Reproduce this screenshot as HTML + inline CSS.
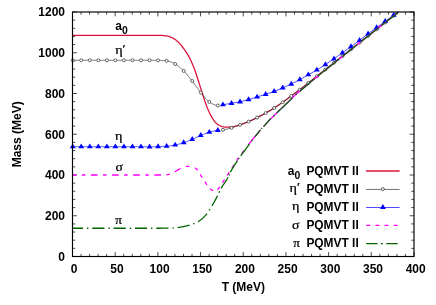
<!DOCTYPE html>
<html><head><meta charset="utf-8"><title>Meson masses</title>
<style>html,body{margin:0;padding:0;background:#fff;}body{width:436px;height:305px;overflow:hidden;position:relative;font-family:"Liberation Sans",sans-serif;}</style></head>
<body>
<svg width="436" height="305" viewBox="0 0 436 305" style="position:absolute;left:0;top:0;will-change:transform;opacity:0.9999">
<rect width="436" height="305" fill="#fff"/>
<path d="M72.50,256.5v-4.4 M72.50,12.0v4.4 M81.04,256.5v-2.7 M81.04,12.0v2.7 M89.58,256.5v-2.7 M89.58,12.0v2.7 M98.11,256.5v-2.7 M98.11,12.0v2.7 M106.65,256.5v-2.7 M106.65,12.0v2.7 M115.19,256.5v-4.4 M115.19,12.0v4.4 M123.73,256.5v-2.7 M123.73,12.0v2.7 M132.26,256.5v-2.7 M132.26,12.0v2.7 M140.80,256.5v-2.7 M140.80,12.0v2.7 M149.34,256.5v-2.7 M149.34,12.0v2.7 M157.88,256.5v-4.4 M157.88,12.0v4.4 M166.41,256.5v-2.7 M166.41,12.0v2.7 M174.95,256.5v-2.7 M174.95,12.0v2.7 M183.49,256.5v-2.7 M183.49,12.0v2.7 M192.03,256.5v-2.7 M192.03,12.0v2.7 M200.56,256.5v-4.4 M200.56,12.0v4.4 M209.10,256.5v-2.7 M209.10,12.0v2.7 M217.64,256.5v-2.7 M217.64,12.0v2.7 M226.18,256.5v-2.7 M226.18,12.0v2.7 M234.71,256.5v-2.7 M234.71,12.0v2.7 M243.25,256.5v-4.4 M243.25,12.0v4.4 M251.79,256.5v-2.7 M251.79,12.0v2.7 M260.32,256.5v-2.7 M260.32,12.0v2.7 M268.86,256.5v-2.7 M268.86,12.0v2.7 M277.40,256.5v-2.7 M277.40,12.0v2.7 M285.94,256.5v-4.4 M285.94,12.0v4.4 M294.48,256.5v-2.7 M294.48,12.0v2.7 M303.01,256.5v-2.7 M303.01,12.0v2.7 M311.55,256.5v-2.7 M311.55,12.0v2.7 M320.09,256.5v-2.7 M320.09,12.0v2.7 M328.62,256.5v-4.4 M328.62,12.0v4.4 M337.16,256.5v-2.7 M337.16,12.0v2.7 M345.70,256.5v-2.7 M345.70,12.0v2.7 M354.24,256.5v-2.7 M354.24,12.0v2.7 M362.77,256.5v-2.7 M362.77,12.0v2.7 M371.31,256.5v-4.4 M371.31,12.0v4.4 M379.85,256.5v-2.7 M379.85,12.0v2.7 M388.39,256.5v-2.7 M388.39,12.0v2.7 M396.93,256.5v-2.7 M396.93,12.0v2.7 M405.46,256.5v-2.7 M405.46,12.0v2.7 M414.00,256.5v-4.4 M414.00,12.0v4.4 M72.5,256.50h4.4 M414.0,256.50h-4.4 M72.5,248.35h2.7 M414.0,248.35h-2.7 M72.5,240.20h2.7 M414.0,240.20h-2.7 M72.5,232.05h2.7 M414.0,232.05h-2.7 M72.5,223.90h2.7 M414.0,223.90h-2.7 M72.5,215.75h4.4 M414.0,215.75h-4.4 M72.5,207.60h2.7 M414.0,207.60h-2.7 M72.5,199.45h2.7 M414.0,199.45h-2.7 M72.5,191.30h2.7 M414.0,191.30h-2.7 M72.5,183.15h2.7 M414.0,183.15h-2.7 M72.5,175.00h4.4 M414.0,175.00h-4.4 M72.5,166.85h2.7 M414.0,166.85h-2.7 M72.5,158.70h2.7 M414.0,158.70h-2.7 M72.5,150.55h2.7 M414.0,150.55h-2.7 M72.5,142.40h2.7 M414.0,142.40h-2.7 M72.5,134.25h4.4 M414.0,134.25h-4.4 M72.5,126.10h2.7 M414.0,126.10h-2.7 M72.5,117.95h2.7 M414.0,117.95h-2.7 M72.5,109.80h2.7 M414.0,109.80h-2.7 M72.5,101.65h2.7 M414.0,101.65h-2.7 M72.5,93.50h4.4 M414.0,93.50h-4.4 M72.5,85.35h2.7 M414.0,85.35h-2.7 M72.5,77.20h2.7 M414.0,77.20h-2.7 M72.5,69.05h2.7 M414.0,69.05h-2.7 M72.5,60.90h2.7 M414.0,60.90h-2.7 M72.5,52.75h4.4 M414.0,52.75h-4.4 M72.5,44.60h2.7 M414.0,44.60h-2.7 M72.5,36.45h2.7 M414.0,36.45h-2.7 M72.5,28.30h2.7 M414.0,28.30h-2.7 M72.5,20.15h2.7 M414.0,20.15h-2.7 M72.5,12.00h4.4 M414.0,12.00h-4.4" stroke="#000" stroke-width="0.7" fill="none"/>
<path d="M72.50,35.40 L73.50,35.40 L74.50,35.40 L75.50,35.40 L76.50,35.40 L77.50,35.40 L78.50,35.40 L79.50,35.40 L80.50,35.40 L81.50,35.40 L82.50,35.40 L83.50,35.40 L84.50,35.40 L85.50,35.40 L86.50,35.40 L87.50,35.40 L88.50,35.40 L89.50,35.40 L90.50,35.40 L91.50,35.40 L92.50,35.40 L93.50,35.40 L94.50,35.40 L95.50,35.40 L96.50,35.40 L97.50,35.40 L98.50,35.40 L99.50,35.40 L100.50,35.40 L101.50,35.40 L102.50,35.40 L103.50,35.40 L104.50,35.40 L105.50,35.40 L106.50,35.40 L107.50,35.40 L108.50,35.40 L109.50,35.40 L110.50,35.40 L111.50,35.40 L112.50,35.40 L113.50,35.40 L114.50,35.40 L115.50,35.40 L116.50,35.40 L117.50,35.40 L118.50,35.40 L119.50,35.40 L120.50,35.40 L121.50,35.40 L122.50,35.40 L123.50,35.40 L124.50,35.40 L125.50,35.40 L126.50,35.40 L127.50,35.40 L128.50,35.40 L129.50,35.40 L130.50,35.40 L131.50,35.40 L132.50,35.40 L133.50,35.40 L134.50,35.40 L135.50,35.40 L136.50,35.40 L137.50,35.40 L138.50,35.40 L139.50,35.40 L140.50,35.40 L141.50,35.40 L142.50,35.40 L143.50,35.40 L144.50,35.40 L145.50,35.40 L146.50,35.40 L147.50,35.40 L148.50,35.40 L149.50,35.40 L150.50,35.40 L151.50,35.40 L152.50,35.40 L153.50,35.40 L154.50,35.40 L155.50,35.40 L156.50,35.40 L157.50,35.40 L158.50,35.40 L159.50,35.40 L160.50,35.40 L161.50,35.44 L162.50,35.50 L163.50,35.57 L164.50,35.68 L165.50,35.82 L166.50,35.98 L167.50,36.16 L168.50,36.37 L169.50,36.66 L170.50,37.03 L171.50,37.47 L172.50,37.95 L173.50,38.51 L174.50,39.14 L175.50,39.83 L176.50,40.58 L177.50,41.40 L178.50,42.31 L179.50,43.32 L180.50,44.46 L181.50,45.71 L182.50,47.00 L183.50,48.30 L184.50,49.64 L185.50,51.05 L186.50,52.57 L187.50,54.20 L188.50,55.94 L189.50,57.79 L190.50,59.77 L191.50,61.91 L192.50,64.21 L193.50,66.68 L194.50,69.31 L195.50,72.07 L196.50,74.93 L197.50,77.96 L198.50,81.16 L199.50,84.41 L200.50,87.65 L201.50,90.77 L202.50,93.91 L203.50,97.04 L204.50,100.10 L205.50,102.99 L206.50,105.64 L207.50,108.16 L208.50,110.57 L209.50,112.83 L210.50,114.88 L211.50,116.68 L212.50,118.36 L213.50,119.93 L214.50,121.34 L215.50,122.53 L216.50,123.46 L217.50,124.24 L218.50,124.94 L219.50,125.53 L220.50,125.99 L221.50,126.32 L222.50,126.60 L223.50,126.85 L224.50,127.05 L225.50,127.17 L226.50,127.20 L227.50,127.18 L228.50,127.12 L229.50,127.05 L230.50,126.96 L231.50,126.86 L232.50,126.75 L233.50,126.60 L234.50,126.40 L235.50,126.15 L236.50,125.86 L237.50,125.55 L238.50,125.23 L239.50,124.91 L240.50,124.59 L241.50,124.27 L242.50,123.92 L243.50,123.57 L244.50,123.19 L245.50,122.81 L246.50,122.42 L247.50,122.01 L248.50,121.60 L249.50,121.18 L250.50,120.75 L251.50,120.29 L252.50,119.83 L253.50,119.35 L254.50,118.86 L255.50,118.37 L256.50,117.87 L257.50,117.38 L258.50,116.87 L259.50,116.36 L260.50,115.84 L261.50,115.32 L262.50,114.79 L263.50,114.24 L264.50,113.70 L265.50,113.14 L266.50,112.58 L267.50,112.00 L268.50,111.42 L269.50,110.83 L270.50,110.23 L271.50,109.62 L272.50,109.01 L273.50,108.38 L274.50,107.75 L275.50,107.11 L276.50,106.46 L277.50,105.79 L278.50,105.12 L279.50,104.44 L280.50,103.75 L281.50,103.05 L282.50,102.35 L283.50,101.64 L284.50,100.92 L285.50,100.19 L286.50,99.45 L287.50,98.70 L288.50,97.95 L289.50,97.20 L290.50,96.45 L291.50,95.72 L292.50,94.99 L293.50,94.26 L294.50,93.54 L295.50,92.82 L296.50,92.09 L297.50,91.36 L298.50,90.62 L299.50,89.88 L300.50,89.12 L301.50,88.35 L302.50,87.57 L303.50,86.78 L304.50,85.98 L305.50,85.19 L306.50,84.39 L307.50,83.60 L308.50,82.81 L309.50,82.02 L310.50,81.24 L311.50,80.45 L312.50,79.66 L313.50,78.88 L314.50,78.09 L315.50,77.30 L316.50,76.51 L317.50,75.73 L318.50,74.94 L319.50,74.15 L320.50,73.37 L321.50,72.58 L322.50,71.79 L323.50,71.01 L324.50,70.22 L325.50,69.43 L326.50,68.64 L327.50,67.86 L328.50,67.07 L329.50,66.28 L330.50,65.50 L331.50,64.71 L332.50,63.92 L333.50,63.14 L334.50,62.35 L335.50,61.56 L336.50,60.77 L337.50,59.99 L338.50,59.20 L339.50,58.41 L340.50,57.63 L341.50,56.84 L342.50,56.05 L343.50,55.27 L344.50,54.48 L345.50,53.69 L346.50,52.90 L347.50,52.12 L348.50,51.33 L349.50,50.54 L350.50,49.76 L351.50,48.97 L352.50,48.18 L353.50,47.40 L354.50,46.61 L355.50,45.82 L356.50,45.03 L357.50,44.25 L358.50,43.46 L359.50,42.67 L360.50,41.89 L361.50,41.10 L362.50,40.31 L363.50,39.53 L364.50,38.74 L365.50,37.95 L366.50,37.16 L367.50,36.38 L368.50,35.59 L369.50,34.80 L370.50,34.02 L371.50,33.23 L372.50,32.44 L373.50,31.66 L374.50,30.87 L375.50,30.08 L376.50,29.29 L377.50,28.51 L378.50,27.72 L379.50,26.93 L380.50,26.15 L381.50,25.36 L382.50,24.57 L383.50,23.79 L384.50,23.00 L385.50,22.21 L386.50,21.42 L387.50,20.64 L388.50,19.85 L389.50,19.06 L390.50,18.28 L391.50,17.49 L392.50,16.70 L393.50,15.92 L394.50,15.13 L395.50,14.34 L396.50,13.55 L397.50,12.77 L398.48,12.00" fill="none" stroke="#dc143c" stroke-width="1.3"/>
<path d="M72.50,60.30 L73.50,60.30 L74.50,60.30 L75.50,60.30 L76.50,60.30 L77.50,60.30 L78.50,60.30 L79.50,60.30 L80.50,60.30 L81.50,60.30 L82.50,60.30 L83.50,60.30 L84.50,60.30 L85.50,60.30 L86.50,60.30 L87.50,60.30 L88.50,60.30 L89.50,60.30 L90.50,60.30 L91.50,60.30 L92.50,60.30 L93.50,60.30 L94.50,60.30 L95.50,60.30 L96.50,60.30 L97.50,60.30 L98.50,60.30 L99.50,60.30 L100.50,60.30 L101.50,60.30 L102.50,60.30 L103.50,60.30 L104.50,60.30 L105.50,60.30 L106.50,60.30 L107.50,60.30 L108.50,60.30 L109.50,60.30 L110.50,60.30 L111.50,60.30 L112.50,60.30 L113.50,60.30 L114.50,60.30 L115.50,60.30 L116.50,60.30 L117.50,60.30 L118.50,60.30 L119.50,60.30 L120.50,60.30 L121.50,60.30 L122.50,60.30 L123.50,60.30 L124.50,60.30 L125.50,60.30 L126.50,60.30 L127.50,60.30 L128.50,60.30 L129.50,60.30 L130.50,60.30 L131.50,60.30 L132.50,60.30 L133.50,60.30 L134.50,60.30 L135.50,60.30 L136.50,60.30 L137.50,60.30 L138.50,60.30 L139.50,60.30 L140.50,60.30 L141.50,60.30 L142.50,60.30 L143.50,60.30 L144.50,60.30 L145.50,60.30 L146.50,60.30 L147.50,60.30 L148.50,60.30 L149.50,60.30 L150.50,60.30 L151.50,60.30 L152.50,60.31 L153.50,60.31 L154.50,60.32 L155.50,60.32 L156.50,60.33 L157.50,60.34 L158.50,60.35 L159.50,60.37 L160.50,60.40 L161.50,60.44 L162.50,60.50 L163.50,60.56 L164.50,60.63 L165.50,60.71 L166.50,60.80 L167.50,60.94 L168.50,61.16 L169.50,61.46 L170.50,61.82 L171.50,62.22 L172.50,62.67 L173.50,63.14 L174.50,63.63 L175.50,64.15 L176.50,64.76 L177.50,65.46 L178.50,66.23 L179.50,67.06 L180.50,67.94 L181.50,68.86 L182.50,69.80 L183.50,70.76 L184.50,71.74 L185.50,72.81 L186.50,73.93 L187.50,75.12 L188.50,76.34 L189.50,77.59 L190.50,78.85 L191.50,80.12 L192.50,81.39 L193.50,82.70 L194.50,84.06 L195.50,85.44 L196.50,86.84 L197.50,88.23 L198.50,89.59 L199.50,90.92 L200.50,92.19 L201.50,93.43 L202.50,94.71 L203.50,96.00 L204.50,97.27 L205.50,98.48 L206.50,99.59 L207.50,100.58 L208.50,101.41 L209.50,102.07 L210.50,102.70 L211.50,103.32 L212.50,103.90 L213.50,104.42 L214.50,104.86 L215.50,105.20 L216.50,105.42 L217.50,105.50" fill="none" stroke="#383838" stroke-width="0.7"/>
<path d="M222.96,129.83 L223.96,129.69 L224.96,129.52 L225.96,129.32 L226.96,129.08 L227.96,128.83 L228.96,128.56 L229.96,128.28 L230.96,128.00 L231.96,127.72 L232.96,127.41 L233.96,127.09 L234.96,126.75 L235.96,126.39 L236.96,126.03 L237.96,125.66 L238.96,125.28 L239.96,124.91 L240.96,124.55 L241.96,124.18 L242.96,123.80 L243.96,123.42 L244.96,123.04 L245.96,122.65 L246.96,122.24 L247.96,121.83 L248.96,121.41 L249.96,120.97 L250.96,120.53 L251.96,120.07 L252.96,119.60 L253.96,119.12 L254.96,118.63 L255.96,118.14 L256.96,117.64 L257.96,117.14 L258.96,116.64 L259.96,116.12 L260.96,115.60 L261.96,115.07 L262.96,114.54 L263.96,113.99 L264.96,113.44 L265.96,112.88 L266.96,112.31 L267.96,111.74 L268.96,111.15 L269.96,110.55 L270.96,109.95 L271.96,109.34 L272.96,108.72 L273.96,108.09 L274.96,107.46 L275.96,106.81 L276.96,106.15 L277.96,105.48 L278.96,104.81 L279.96,104.12 L280.96,103.43 L281.96,102.73 L282.96,102.03 L283.96,101.31 L284.96,100.59 L285.96,99.85 L286.96,99.10 L287.96,98.35 L288.96,97.60 L289.96,96.86 L290.96,96.11 L291.96,95.38 L292.96,94.65 L293.96,93.93 L294.96,93.21 L295.96,92.48 L296.96,91.76 L297.96,91.02 L298.96,90.28 L299.96,89.53 L300.96,88.77 L301.96,87.99 L302.96,87.20 L303.96,86.41 L304.96,85.62 L305.96,84.82 L306.96,84.03 L307.96,83.24 L308.96,82.45 L309.96,81.66 L310.96,80.87 L311.96,80.09 L312.96,79.30 L313.96,78.51 L314.96,77.73 L315.96,76.94 L316.96,76.15 L317.96,75.37 L318.96,74.58 L319.96,73.79 L320.96,73.00 L321.96,72.22 L322.96,71.43 L323.96,70.64 L324.96,69.86 L325.96,69.07 L326.96,68.28 L327.96,67.50 L328.96,66.71 L329.96,65.92 L330.96,65.13 L331.96,64.35 L332.96,63.56 L333.96,62.77 L334.96,61.99 L335.96,61.20 L336.96,60.41 L337.96,59.63 L338.96,58.84 L339.96,58.05 L340.96,57.26 L341.96,56.48 L342.96,55.69 L343.96,54.90 L344.96,54.12 L345.96,53.33 L346.96,52.54 L347.96,51.76 L348.96,50.97 L349.96,50.18 L350.96,49.39 L351.96,48.61 L352.96,47.82 L353.96,47.03 L354.96,46.25 L355.96,45.46 L356.96,44.67 L357.96,43.89 L358.96,43.10 L359.96,42.31 L360.96,41.52 L361.96,40.74 L362.96,39.95 L363.96,39.16 L364.96,38.38 L365.96,37.59 L366.96,36.80 L367.96,36.02 L368.96,35.23 L369.96,34.44 L370.96,33.65 L371.96,32.87 L372.96,32.08 L373.96,31.29 L374.96,30.51 L375.96,29.72 L376.96,28.93 L377.96,28.15 L378.96,27.36 L379.96,26.57 L380.96,25.78 L381.96,25.00 L382.96,24.21 L383.96,23.42 L384.96,22.64 L385.96,21.85 L386.96,21.06 L387.96,20.28 L388.96,19.49 L389.96,18.70 L390.96,17.91 L391.96,17.13 L392.96,16.34 L393.96,15.55 L394.96,14.77 L395.96,13.98 L396.96,13.19 L397.96,12.41 L398.48,12.00" fill="none" stroke="#383838" stroke-width="0.7"/>
<circle cx="72.70" cy="60.30" r="1.5" fill="#fff" stroke="#383838" stroke-width="0.75"/>
<circle cx="81.24" cy="60.30" r="1.5" fill="#fff" stroke="#383838" stroke-width="0.75"/>
<circle cx="89.78" cy="60.30" r="1.5" fill="#fff" stroke="#383838" stroke-width="0.75"/>
<circle cx="98.31" cy="60.30" r="1.5" fill="#fff" stroke="#383838" stroke-width="0.75"/>
<circle cx="106.85" cy="60.30" r="1.5" fill="#fff" stroke="#383838" stroke-width="0.75"/>
<circle cx="115.39" cy="60.30" r="1.5" fill="#fff" stroke="#383838" stroke-width="0.75"/>
<circle cx="123.93" cy="60.30" r="1.5" fill="#fff" stroke="#383838" stroke-width="0.75"/>
<circle cx="132.46" cy="60.30" r="1.5" fill="#fff" stroke="#383838" stroke-width="0.75"/>
<circle cx="141.00" cy="60.30" r="1.5" fill="#fff" stroke="#383838" stroke-width="0.75"/>
<circle cx="149.54" cy="60.30" r="1.5" fill="#fff" stroke="#383838" stroke-width="0.75"/>
<circle cx="158.07" cy="60.35" r="1.5" fill="#fff" stroke="#383838" stroke-width="0.75"/>
<circle cx="166.61" cy="60.81" r="1.5" fill="#fff" stroke="#383838" stroke-width="0.75"/>
<circle cx="175.15" cy="63.96" r="1.5" fill="#fff" stroke="#383838" stroke-width="0.75"/>
<circle cx="183.69" cy="70.94" r="1.5" fill="#fff" stroke="#383838" stroke-width="0.75"/>
<circle cx="192.23" cy="81.03" r="1.5" fill="#fff" stroke="#383838" stroke-width="0.75"/>
<circle cx="200.76" cy="92.52" r="1.5" fill="#fff" stroke="#383838" stroke-width="0.75"/>
<circle cx="209.30" cy="101.94" r="1.5" fill="#fff" stroke="#383838" stroke-width="0.75"/>
<circle cx="217.84" cy="105.49" r="1.5" fill="#fff" stroke="#383838" stroke-width="0.75"/>
<circle cx="222.96" cy="129.83" r="1.5" fill="#fff" stroke="#383838" stroke-width="0.75"/>
<circle cx="231.50" cy="127.85" r="1.5" fill="#fff" stroke="#383838" stroke-width="0.75"/>
<circle cx="240.04" cy="124.89" r="1.5" fill="#fff" stroke="#383838" stroke-width="0.75"/>
<circle cx="248.57" cy="121.58" r="1.5" fill="#fff" stroke="#383838" stroke-width="0.75"/>
<circle cx="257.11" cy="117.57" r="1.5" fill="#fff" stroke="#383838" stroke-width="0.75"/>
<circle cx="265.65" cy="113.06" r="1.5" fill="#fff" stroke="#383838" stroke-width="0.75"/>
<circle cx="274.19" cy="107.95" r="1.5" fill="#fff" stroke="#383838" stroke-width="0.75"/>
<circle cx="282.72" cy="102.20" r="1.5" fill="#fff" stroke="#383838" stroke-width="0.75"/>
<circle cx="291.26" cy="95.89" r="1.5" fill="#fff" stroke="#383838" stroke-width="0.75"/>
<circle cx="299.80" cy="89.65" r="1.5" fill="#fff" stroke="#383838" stroke-width="0.75"/>
<circle cx="308.33" cy="82.94" r="1.5" fill="#fff" stroke="#383838" stroke-width="0.75"/>
<circle cx="316.87" cy="76.22" r="1.5" fill="#fff" stroke="#383838" stroke-width="0.75"/>
<circle cx="325.41" cy="69.50" r="1.5" fill="#fff" stroke="#383838" stroke-width="0.75"/>
<circle cx="333.95" cy="62.78" r="1.5" fill="#fff" stroke="#383838" stroke-width="0.75"/>
<circle cx="342.49" cy="56.06" r="1.5" fill="#fff" stroke="#383838" stroke-width="0.75"/>
<circle cx="351.02" cy="49.35" r="1.5" fill="#fff" stroke="#383838" stroke-width="0.75"/>
<circle cx="359.56" cy="42.63" r="1.5" fill="#fff" stroke="#383838" stroke-width="0.75"/>
<circle cx="368.10" cy="35.91" r="1.5" fill="#fff" stroke="#383838" stroke-width="0.75"/>
<circle cx="376.63" cy="29.19" r="1.5" fill="#fff" stroke="#383838" stroke-width="0.75"/>
<circle cx="385.17" cy="22.47" r="1.5" fill="#fff" stroke="#383838" stroke-width="0.75"/>
<circle cx="393.71" cy="15.75" r="1.5" fill="#fff" stroke="#383838" stroke-width="0.75"/>
<path d="M72.50,146.70 L73.50,146.70 L74.50,146.70 L75.50,146.70 L76.50,146.70 L77.50,146.70 L78.50,146.70 L79.50,146.70 L80.50,146.70 L81.50,146.70 L82.50,146.70 L83.50,146.70 L84.50,146.70 L85.50,146.70 L86.50,146.70 L87.50,146.70 L88.50,146.70 L89.50,146.70 L90.50,146.70 L91.50,146.70 L92.50,146.70 L93.50,146.70 L94.50,146.70 L95.50,146.70 L96.50,146.70 L97.50,146.70 L98.50,146.70 L99.50,146.70 L100.50,146.70 L101.50,146.70 L102.50,146.70 L103.50,146.70 L104.50,146.70 L105.50,146.70 L106.50,146.70 L107.50,146.70 L108.50,146.70 L109.50,146.70 L110.50,146.70 L111.50,146.70 L112.50,146.70 L113.50,146.70 L114.50,146.70 L115.50,146.70 L116.50,146.70 L117.50,146.70 L118.50,146.70 L119.50,146.70 L120.50,146.70 L121.50,146.70 L122.50,146.70 L123.50,146.70 L124.50,146.70 L125.50,146.70 L126.50,146.70 L127.50,146.70 L128.50,146.70 L129.50,146.70 L130.50,146.70 L131.50,146.70 L132.50,146.70 L133.50,146.70 L134.50,146.70 L135.50,146.70 L136.50,146.70 L137.50,146.70 L138.50,146.70 L139.50,146.70 L140.50,146.70 L141.50,146.71 L142.50,146.72 L143.50,146.73 L144.50,146.74 L145.50,146.76 L146.50,146.77 L147.50,146.78 L148.50,146.79 L149.50,146.80 L150.50,146.80 L151.50,146.79 L152.50,146.77 L153.50,146.75 L154.50,146.72 L155.50,146.69 L156.50,146.66 L157.50,146.62 L158.50,146.59 L159.50,146.56 L160.50,146.52 L161.50,146.48 L162.50,146.44 L163.50,146.39 L164.50,146.33 L165.50,146.27 L166.50,146.20 L167.50,146.12 L168.50,146.01 L169.50,145.89 L170.50,145.76 L171.50,145.61 L172.50,145.44 L173.50,145.27 L174.50,145.09 L175.50,144.90 L176.50,144.69 L177.50,144.45 L178.50,144.19 L179.50,143.92 L180.50,143.63 L181.50,143.32 L182.50,143.01 L183.50,142.70 L184.50,142.38 L185.50,142.03 L186.50,141.68 L187.50,141.30 L188.50,140.92 L189.50,140.53 L190.50,140.12 L191.50,139.71 L192.50,139.29 L193.50,138.84 L194.50,138.36 L195.50,137.87 L196.50,137.38 L197.50,136.88 L198.50,136.40 L199.50,135.94 L200.50,135.50 L201.50,135.08 L202.50,134.67 L203.50,134.26 L204.50,133.86 L205.50,133.48 L206.50,133.11 L207.50,132.77 L208.50,132.45 L209.50,132.16 L210.50,131.87 L211.50,131.59 L212.50,131.32 L213.50,131.06 L214.50,130.83 L215.50,130.62 L216.50,130.44 L217.50,130.30" fill="none" stroke="#0000ff" stroke-width="0.7"/>
<path d="M222.96,104.71 L223.96,104.55 L224.96,104.38 L225.96,104.22 L226.96,104.04 L227.96,103.87 L228.96,103.69 L229.96,103.52 L230.96,103.34 L231.96,103.17 L232.96,103.00 L233.96,102.84 L234.96,102.67 L235.96,102.50 L236.96,102.33 L237.96,102.15 L238.96,101.96 L239.96,101.76 L240.96,101.54 L241.96,101.31 L242.96,101.07 L243.96,100.81 L244.96,100.55 L245.96,100.28 L246.96,100.00 L247.96,99.72 L248.96,99.44 L249.96,99.15 L250.96,98.86 L251.96,98.55 L252.96,98.24 L253.96,97.93 L254.96,97.62 L255.96,97.30 L256.96,96.99 L257.96,96.68 L258.96,96.37 L259.96,96.07 L260.96,95.76 L261.96,95.45 L262.96,95.14 L263.96,94.83 L264.96,94.51 L265.96,94.18 L266.96,93.85 L267.96,93.53 L268.96,93.19 L269.96,92.86 L270.96,92.52 L271.96,92.17 L272.96,91.81 L273.96,91.45 L274.96,91.08 L275.96,90.69 L276.96,90.29 L277.96,89.89 L278.96,89.47 L279.96,89.05 L280.96,88.63 L281.96,88.20 L282.96,87.77 L283.96,87.33 L284.96,86.89 L285.96,86.45 L286.96,86.00 L287.96,85.55 L288.96,85.08 L289.96,84.62 L290.96,84.14 L291.96,83.66 L292.96,83.16 L293.96,82.66 L294.96,82.16 L295.96,81.64 L296.96,81.12 L297.96,80.60 L298.96,80.06 L299.96,79.52 L300.96,78.97 L301.96,78.41 L302.96,77.83 L303.96,77.25 L304.96,76.66 L305.96,76.07 L306.96,75.49 L307.96,74.91 L308.96,74.35 L309.96,73.79 L310.96,73.24 L311.96,72.70 L312.96,72.15 L313.96,71.60 L314.96,71.03 L315.96,70.46 L316.96,69.88 L317.96,69.28 L318.96,68.67 L319.96,68.05 L320.96,67.42 L321.96,66.79 L322.96,66.15 L323.96,65.50 L324.96,64.85 L325.96,64.20 L326.96,63.54 L327.96,62.87 L328.96,62.20 L329.96,61.52 L330.96,60.84 L331.96,60.16 L332.96,59.47 L333.96,58.78 L334.96,58.08 L335.96,57.39 L336.96,56.69 L337.96,55.98 L338.96,55.27 L339.96,54.56 L340.96,53.85 L341.96,53.14 L342.96,52.42 L343.96,51.70 L344.96,50.99 L345.96,50.26 L346.96,49.54 L347.96,48.82 L348.96,48.09 L349.96,47.36 L350.96,46.63 L351.96,45.90 L352.96,45.16 L353.96,44.43 L354.96,43.69 L355.96,42.95 L356.96,42.21 L357.96,41.46 L358.96,40.72 L359.96,39.97 L360.96,39.22 L361.96,38.46 L362.96,37.70 L363.96,36.95 L364.96,36.19 L365.96,35.43 L366.96,34.68 L367.96,33.93 L368.96,33.18 L369.96,32.44 L370.96,31.69 L371.96,30.95 L372.96,30.20 L373.96,29.46 L374.96,28.73 L375.96,27.99 L376.96,27.27 L377.96,26.54 L378.96,25.82 L379.96,25.11 L380.96,24.40 L381.96,23.68 L382.96,22.97 L383.96,22.25 L384.96,21.53 L385.96,20.80 L386.96,20.08 L387.96,19.35 L388.96,18.61 L389.96,17.88 L390.96,17.15 L391.96,16.41 L392.96,15.68 L393.96,14.95 L394.96,14.21 L395.96,13.48 L396.96,12.74 L397.96,12.00 L397.97,12.00" fill="none" stroke="#0000ff" stroke-width="0.7"/>
<path d="M69.75,148.35 L75.65,148.35 L72.70,143.40Z" fill="#0000ff"/>
<path d="M78.29,148.35 L84.19,148.35 L81.24,143.40Z" fill="#0000ff"/>
<path d="M86.83,148.35 L92.73,148.35 L89.78,143.40Z" fill="#0000ff"/>
<path d="M95.36,148.35 L101.26,148.35 L98.31,143.40Z" fill="#0000ff"/>
<path d="M103.90,148.35 L109.80,148.35 L106.85,143.40Z" fill="#0000ff"/>
<path d="M112.44,148.35 L118.34,148.35 L115.39,143.40Z" fill="#0000ff"/>
<path d="M120.98,148.35 L126.88,148.35 L123.93,143.40Z" fill="#0000ff"/>
<path d="M129.51,148.35 L135.41,148.35 L132.46,143.40Z" fill="#0000ff"/>
<path d="M138.05,148.35 L143.95,148.35 L141.00,143.40Z" fill="#0000ff"/>
<path d="M146.59,148.45 L152.49,148.45 L149.54,143.50Z" fill="#0000ff"/>
<path d="M155.12,148.26 L161.02,148.26 L158.07,143.31Z" fill="#0000ff"/>
<path d="M163.66,147.84 L169.56,147.84 L166.61,142.89Z" fill="#0000ff"/>
<path d="M172.20,146.62 L178.10,146.62 L175.15,141.67Z" fill="#0000ff"/>
<path d="M180.74,144.29 L186.64,144.29 L183.69,139.34Z" fill="#0000ff"/>
<path d="M189.28,141.05 L195.18,141.05 L192.23,136.10Z" fill="#0000ff"/>
<path d="M197.81,137.04 L203.71,137.04 L200.76,132.09Z" fill="#0000ff"/>
<path d="M206.35,133.86 L212.25,133.86 L209.30,128.91Z" fill="#0000ff"/>
<path d="M214.89,131.91 L220.79,131.91 L217.84,126.96Z" fill="#0000ff"/>
<path d="M220.01,106.36 L225.91,106.36 L222.96,101.41Z" fill="#0000ff"/>
<path d="M228.55,104.90 L234.45,104.90 L231.50,99.95Z" fill="#0000ff"/>
<path d="M237.09,103.39 L242.99,103.39 L240.04,98.44Z" fill="#0000ff"/>
<path d="M245.62,101.20 L251.52,101.20 L248.57,96.25Z" fill="#0000ff"/>
<path d="M254.16,98.59 L260.06,98.59 L257.11,93.64Z" fill="#0000ff"/>
<path d="M262.70,95.93 L268.60,95.93 L265.65,90.98Z" fill="#0000ff"/>
<path d="M271.24,93.02 L277.13,93.02 L274.19,88.07Z" fill="#0000ff"/>
<path d="M279.77,89.52 L285.67,89.52 L282.72,84.57Z" fill="#0000ff"/>
<path d="M288.31,85.65 L294.21,85.65 L291.26,80.70Z" fill="#0000ff"/>
<path d="M296.85,81.26 L302.75,81.26 L299.80,76.31Z" fill="#0000ff"/>
<path d="M305.38,76.35 L311.28,76.35 L308.33,71.40Z" fill="#0000ff"/>
<path d="M313.92,71.58 L319.82,71.58 L316.87,66.63Z" fill="#0000ff"/>
<path d="M322.46,66.21 L328.36,66.21 L325.41,61.26Z" fill="#0000ff"/>
<path d="M331.00,60.44 L336.90,60.44 L333.95,55.49Z" fill="#0000ff"/>
<path d="M339.54,54.41 L345.44,54.41 L342.49,49.46Z" fill="#0000ff"/>
<path d="M348.07,48.23 L353.97,48.23 L351.02,43.28Z" fill="#0000ff"/>
<path d="M356.61,41.92 L362.51,41.92 L359.56,36.97Z" fill="#0000ff"/>
<path d="M365.15,35.48 L371.05,35.48 L368.10,30.53Z" fill="#0000ff"/>
<path d="M373.69,29.15 L379.58,29.15 L376.63,24.20Z" fill="#0000ff"/>
<path d="M382.22,23.02 L388.12,23.02 L385.17,18.07Z" fill="#0000ff"/>
<path d="M390.76,16.78 L396.66,16.78 L393.71,11.83Z" fill="#0000ff"/>
<path d="M72.50,175.00 L73.50,175.00 L74.50,175.00 L75.50,175.00 L76.50,175.00 L77.50,175.00 L78.50,175.00 L79.50,175.00 L80.50,175.00 L81.50,175.00 L82.50,175.00 L83.50,175.00 L84.50,175.00 L85.50,175.00 L86.50,175.00 L87.50,175.00 L88.50,175.00 L89.50,175.00 L90.50,175.00 L91.50,175.00 L92.50,175.00 L93.50,175.00 L94.50,175.00 L95.50,175.00 L96.50,175.00 L97.50,175.00 L98.50,175.00 L99.50,175.00 L100.50,175.00 L101.50,175.00 L102.50,175.00 L103.50,175.00 L104.50,175.00 L105.50,175.00 L106.50,175.00 L107.50,175.00 L108.50,175.00 L109.50,175.00 L110.50,175.00 L111.50,175.00 L112.50,175.00 L113.50,175.00 L114.50,175.00 L115.50,175.00 L116.50,175.00 L117.50,175.00 L118.50,175.00 L119.50,175.00 L120.50,175.00 L121.50,175.00 L122.50,175.00 L123.50,175.00 L124.50,175.00 L125.50,175.00 L126.50,175.00 L127.50,175.00 L128.50,175.00 L129.50,175.00 L130.50,175.00 L131.50,175.00 L132.50,175.00 L133.50,175.00 L134.50,175.00 L135.50,175.00 L136.50,175.00 L137.50,175.00 L138.50,175.00 L139.50,175.00 L140.50,175.00 L141.50,175.00 L142.50,175.00 L143.50,175.00 L144.50,175.00 L145.50,175.00 L146.50,175.00 L147.50,175.00 L148.50,175.00 L149.50,175.00 L150.50,175.00 L151.50,175.00 L152.50,175.00 L153.50,175.00 L154.50,175.00 L155.50,175.00 L156.50,175.00 L157.50,175.00 L158.50,175.00 L159.50,175.00 L160.50,175.00 L161.50,174.99 L162.50,174.96 L163.50,174.93 L164.50,174.89 L165.50,174.83 L166.50,174.77 L167.50,174.70 L168.50,174.54 L169.50,174.23 L170.50,173.84 L171.50,173.41 L172.50,172.97 L173.50,172.45 L174.50,171.88 L175.50,171.32 L176.50,170.75 L177.50,170.15 L178.50,169.57 L179.50,169.01 L180.50,168.52 L181.50,168.10 L182.50,167.69 L183.50,167.28 L184.50,166.90 L185.50,166.59 L186.50,166.38 L187.50,166.30 L188.50,166.30 L189.50,166.30 L190.50,166.30 L191.50,166.31 L192.50,166.51" fill="none" stroke="#ff00ff" stroke-width="1.3" stroke-dasharray="6.7 5.45 3.5 5.5" stroke-dashoffset="2.8"/>
<path d="M194.80,167.72 L195.80,168.42 L196.80,169.23 L197.80,170.45 L198.80,171.98 L199.80,173.65 L200.80,175.30 L201.80,176.84 L202.80,178.43 L203.80,180.05 L204.80,181.64 L205.80,183.13 L206.80,184.51 L207.80,185.92 L208.80,187.28 L209.80,188.48 L210.80,189.40 L211.80,190.01 L212.80,190.54 L213.80,190.97 L214.80,191.24 L215.80,191.25 L216.80,190.55 L217.80,189.43 L218.80,188.03 L219.80,186.31 L220.80,184.89 L221.80,183.59 L222.80,182.21 L223.80,180.70 L224.80,179.11 L225.80,177.50 L226.80,175.89 L227.80,174.32 L228.80,172.82 L229.80,171.35 L230.80,169.87 L231.80,168.34 L232.80,166.74 L233.80,165.08 L234.80,163.42 L235.80,161.82 L236.80,160.31 L237.80,158.88 L238.80,157.50 L239.80,156.15 L240.80,154.82 L241.80,153.47 L242.80,152.11 L243.80,150.75 L244.80,149.40 L245.80,148.06 L246.80,146.75" fill="none" stroke="#ff00ff" stroke-width="1.3" stroke-dasharray="3.8 4.9"/>
<path d="M248.50,144.54 L249.00,143.89 L249.51,143.25 L250.01,142.61 L250.52,141.97 L251.02,141.34 L251.53,140.72 L252.03,140.10 L252.53,139.49 L253.04,138.89 L253.54,138.29 L254.05,137.70 L254.55,137.11 L255.05,136.52 L255.56,135.92 L256.06,135.33 L256.57,134.72 L257.07,134.10 L257.58,133.47 L258.08,132.83 L258.58,132.20 L259.09,131.56 L259.59,130.93 L260.10,130.31 L260.60,129.70 M263.40,126.73 L263.90,126.21 L264.40,125.67 L264.90,125.12 L265.40,124.56 L265.90,124.00 L266.41,123.43 L266.91,122.85 L267.41,122.28 L267.91,121.72 L268.41,121.16 L268.91,120.62 L269.41,120.09 L269.91,119.58 L270.41,119.08 L270.91,118.60 L271.41,118.12 L271.92,117.64 L272.42,117.16 L272.92,116.68 L273.42,116.19 L273.92,115.70 L274.42,115.21 L274.92,114.72 L275.42,114.23 L275.92,113.74 L276.42,113.25 L276.93,112.77 L277.43,112.28 L277.93,111.80 L278.43,111.32 L278.93,110.84 L279.43,110.36 L279.93,109.88 L280.43,109.40 L280.93,108.92 L281.43,108.45 L281.93,107.97 L282.44,107.49 L282.94,107.01 L283.44,106.54 L283.94,106.06 L284.44,105.58 L284.94,105.11 L285.44,104.63 L285.94,104.16 L286.44,103.68 L286.94,103.21 L287.44,102.73 L287.95,102.25 L288.45,101.76 L288.95,101.26 L289.45,100.76 L289.95,100.25 L290.45,99.75 L290.95,99.24 L291.45,98.74 L291.95,98.25 L292.45,97.76 L292.95,97.27 L293.46,96.78 L293.96,96.29 L294.46,95.81 L294.96,95.33 L295.46,94.86 L295.96,94.39 L296.46,93.94 L296.96,93.49 L297.46,93.05 L297.96,92.61 L298.46,92.19 L298.97,91.76 L299.47,91.34 L299.97,90.93 L300.47,90.51 L300.97,90.11 L301.47,89.71 L301.97,89.31 L302.47,88.91 L302.97,88.51 L303.47,88.11 L303.98,87.70 L304.48,87.29 L304.98,86.87 L305.48,86.44 L305.98,86.02 L306.48,85.59 L306.98,85.16 L307.48,84.72 L307.98,84.29 L308.48,83.86 L308.98,83.42 L309.49,82.99 L309.99,82.56 L310.49,82.13 L310.99,81.70 L311.49,81.28 L311.99,80.86 L312.49,80.44 L312.99,80.02 L313.49,79.60 L313.99,79.19 L314.49,78.77 L315.00,78.36 L315.50,77.94 L316.00,77.53 L316.50,77.12 L317.00,76.71 L317.50,76.30 L318.00,75.89 L318.50,75.48 L319.00,75.08 L319.50,74.67 L320.00,74.27 L320.51,73.86 L321.01,73.46 L321.51,73.06 L322.01,72.66 L322.51,72.26 L323.01,71.86 L323.51,71.47 L324.01,71.07 L324.51,70.67 L325.01,70.28 L325.51,69.88 L326.02,69.49 L326.52,69.09 L327.02,68.69 L327.52,68.30 L328.02,67.90 L328.52,67.50 L329.02,67.10 L329.52,66.70 L330.02,66.30 L330.52,65.91 L331.03,65.51 L331.53,65.11 L332.03,64.71 L332.53,64.31 L333.03,63.91 L333.53,63.51 L334.03,63.12 L334.53,62.72 L335.03,62.32 L335.53,61.92 L336.03,61.52 L336.54,61.12 L337.04,60.72 L337.54,60.32 L338.04,59.92 L338.54,59.52 L339.04,59.12 L339.54,58.72 L340.04,58.32 L340.54,57.92 L341.04,57.52 L341.54,57.12 L342.05,56.72 L342.55,56.32 L343.05,55.92 L343.55,55.52 L344.05,55.11 L344.55,54.71 L345.05,54.31 L345.55,53.91 L346.05,53.51 L346.55,53.11 L347.05,52.71 L347.56,52.31 L348.06,51.91 L348.56,51.51 L349.06,51.11 L349.56,50.71 L350.06,50.31 L350.56,49.91 L351.06,49.51 L351.56,49.11 L352.06,48.71 L352.56,48.31 L353.07,47.91 L353.57,47.51 L354.07,47.11 L354.57,46.71 L355.07,46.31 L355.57,45.91 L356.07,45.51 L356.57,45.11 L357.07,44.71 L357.57,44.31 L358.08,43.91 L358.58,43.51 L359.08,43.11 L359.58,42.71 L360.08,42.32 L360.58,41.92 L361.08,41.53 L361.58,41.13 L362.08,40.74 L362.58,40.34 L363.08,39.95 L363.59,39.55 L364.09,39.16 L364.59,38.77 L365.09,38.37 L365.59,37.98 L366.09,37.59 L366.59,37.19 L367.09,36.80 L367.59,36.40 L368.09,36.01 L368.59,35.62 L369.10,35.22 L369.60,34.83 L370.10,34.43 L370.60,34.04 L371.10,33.65 L371.60,33.25 L372.10,32.86 L372.60,32.46 L373.10,32.07 L373.60,31.67 L374.10,31.28 L374.61,30.89 L375.11,30.49 L375.61,30.10 L376.11,29.70 L376.61,29.31 L377.11,28.91 L377.61,28.52 L378.11,28.13 L378.61,27.73 L379.11,27.34 L379.61,26.94 L380.12,26.55 L380.62,26.15 L381.12,25.76 L381.62,25.37 L382.12,24.97 L382.62,24.58 L383.12,24.18 L383.62,23.79 L384.12,23.40 L384.62,23.00 L385.13,22.61 L385.63,22.21 L386.13,21.82 L386.63,21.42 L387.13,21.03 L387.63,20.64 L388.13,20.24 L388.63,19.85 L389.13,19.45 L389.63,19.06 L390.13,18.66 L390.64,18.27 L391.14,17.88 L391.64,17.48 L392.14,17.09 L392.64,16.69 L393.14,16.30 L393.64,15.90 L394.14,15.51 L394.64,15.12 L395.14,14.72 L395.64,14.33 L396.15,13.93 L396.65,13.54 L397.15,13.15 L397.65,12.75 L398.15,12.36" fill="none" stroke="#ff00ff" stroke-width="1.3"/>
<path d="M72.50,228.25 L73.50,228.25 L74.50,228.25 L75.50,228.25 L76.50,228.25 L77.50,228.25 L78.50,228.25 L79.50,228.25 L80.50,228.25 L81.50,228.25 L82.50,228.25 L83.50,228.25 L84.50,228.25 L85.50,228.25 L86.50,228.25 L87.50,228.25 L88.50,228.25 L89.50,228.25 L90.50,228.25 L91.50,228.25 L92.50,228.25 L93.50,228.25 L94.50,228.25 L95.50,228.25 L96.50,228.25 L97.50,228.25 L98.50,228.25 L99.50,228.25 L100.50,228.25 L101.50,228.25 L102.50,228.25 L103.50,228.25 L104.50,228.25 L105.50,228.25 L106.50,228.25 L107.50,228.25 L108.50,228.25 L109.50,228.25 L110.50,228.25 L111.50,228.25 L112.50,228.25 L113.50,228.25 L114.50,228.25 L115.50,228.25 L116.50,228.25 L117.50,228.25 L118.50,228.25 L119.50,228.25 L120.50,228.25 L121.50,228.25 L122.50,228.25 L123.50,228.25 L124.50,228.25 L125.50,228.25 L126.50,228.25 L127.50,228.25 L128.50,228.25 L129.50,228.25 L130.50,228.25 L131.50,228.25 L132.50,228.25 L133.50,228.25 L134.50,228.25 L135.50,228.25 L136.50,228.25 L137.50,228.25 L138.50,228.25 L139.50,228.25 L140.50,228.25 L141.50,228.25 L142.50,228.25 L143.50,228.25 L144.50,228.25 L145.50,228.25 L146.50,228.25 L147.50,228.25 L148.50,228.25 L149.50,228.25 L150.50,228.25 L151.50,228.25 L152.50,228.25 L153.50,228.25 L154.50,228.25 L155.50,228.24 L156.50,228.24 L157.50,228.24 L158.50,228.23 L159.50,228.23 L160.50,228.23 L161.50,228.22 L162.50,228.21 L163.50,228.21 L164.50,228.20 L165.50,228.20 L166.50,228.18 L167.50,228.15 L168.50,228.12 L169.50,228.07 L170.50,228.02 L171.50,227.96 L172.50,227.90 L173.50,227.83 L174.50,227.75 L175.50,227.67 L176.50,227.59 L177.50,227.50 L178.50,227.40 L179.50,227.28 L180.50,227.14 L181.50,226.98 L182.50,226.80 L183.50,226.60 L184.50,226.39 L185.50,226.16 L186.50,225.92 L187.50,225.67 L188.50,225.41 L189.50,225.14 L190.50,224.86 L191.50,224.55 L192.50,224.20 L193.50,223.82 L194.50,223.41 L195.50,222.96 L196.50,222.47 L197.50,221.95 L198.50,221.40 L199.50,220.78 L200.50,220.07 L201.50,219.27 L202.50,218.39 L203.50,217.44 L204.50,216.42 L205.50,215.34 L206.50,214.21 L207.50,212.93 L208.50,211.51 L209.50,209.97 L210.50,208.35 L211.50,206.68 L212.50,205.00 L213.50,203.27 L214.50,201.46 L215.50,199.59 L216.50,197.68 L217.50,195.72" fill="none" stroke="#006400" stroke-width="1.3" stroke-dasharray="12.2 3.9 1.4 3.85" stroke-dashoffset="1.6"/>
<path d="M218.90,192.83 L219.70,191.17 M221.10,188.44 L221.63,187.50 L222.16,186.61 L222.69,185.76 L223.22,184.95 L223.75,184.15 L224.28,183.37 L224.82,182.58 L225.35,181.78 L225.88,180.96 L226.41,180.11 L226.94,179.21 L227.47,178.25 L228.00,177.22 M228.90,175.40 L229.50,174.15 M230.40,172.29 L230.91,171.28 L231.41,170.32 L231.92,169.41 L232.43,168.53 L232.94,167.67 L233.44,166.84 L233.95,166.02 L234.46,165.21 L234.96,164.42 L235.47,163.63 L235.98,162.85 L236.49,162.08 L236.99,161.31 L237.50,160.55 M238.40,159.20 L239.20,158.02 M240.70,155.87 L241.21,155.16 L241.71,154.45 L242.22,153.76 L242.72,153.07 L243.23,152.40 L243.74,151.75 L244.24,151.11 L244.75,150.46 L245.25,149.80 L245.76,149.11 L246.26,148.41 L246.77,147.70 L247.28,146.99 L247.78,146.27 L248.29,145.54 L248.79,144.82 L249.30,144.10 M251.50,141.06 L252.40,139.89 M254.90,136.77 L255.44,136.11 L255.98,135.44 L256.52,134.78 L257.06,134.10 L257.60,133.42 L258.14,132.74 L258.68,132.05 L259.22,131.38 L259.76,130.71 L260.30,130.06 M261.30,128.90 L262.10,128.04 M263.60,126.52 L264.13,125.97 L264.66,125.40 L265.19,124.81 L265.71,124.21 L266.24,123.61 L266.77,123.01 L267.30,122.41 L267.83,121.81 L268.36,121.22 L268.89,120.65 L269.41,120.09 L269.94,119.55 L270.47,119.03 L271.00,118.51 M273.40,116.21 L273.90,115.72 L274.40,115.23 M276.70,112.98 L277.21,112.49 L277.71,112.00 L278.22,111.52 L278.73,111.03 L279.23,110.55 L279.74,110.06 L280.25,109.58 L280.75,109.10 L281.26,108.61 L281.76,108.13 L282.27,107.65 L282.78,107.17 L283.28,106.68 L283.79,106.20 L284.30,105.72 L284.80,105.24 L285.31,104.76 L285.82,104.28 L286.32,103.80 L286.83,103.32 L287.34,102.83 L287.84,102.35 L288.35,101.85 L288.85,101.35 L289.36,100.85 L289.87,100.34 L290.37,99.82 L290.88,99.31 L291.39,98.81 L291.89,98.30 L292.40,97.81 M295.60,94.73 L296.10,94.26 L296.60,93.81 M299.80,91.07 L300.31,90.65 L300.81,90.23 L301.32,89.83 L301.83,89.42 L302.33,89.02 L302.84,88.62 L303.35,88.21 L303.86,87.80 L304.36,87.38 L304.87,86.96 L305.38,86.53 L305.88,86.10 L306.39,85.67 L306.90,85.23 L307.40,84.79 L307.91,84.35 L308.42,83.91 L308.92,83.47 L309.43,83.04 L309.94,82.60 L310.44,82.16 L310.95,81.73 L311.46,81.30 L311.97,80.88 L312.47,80.45 L312.98,80.03 L313.49,79.61 L313.99,79.19 L314.50,78.77 M317.80,76.06 L318.30,75.65 L318.80,75.24 L319.31,74.83 L319.81,74.42 L320.31,74.02 L320.81,73.61 L321.32,73.21 L321.82,72.81 L322.32,72.41 L322.82,72.01 L323.33,71.61 L323.83,71.21 L324.33,70.82 L324.83,70.42 L325.34,70.02 L325.84,69.63 L326.34,69.23 L326.84,68.83 L327.35,68.43 L327.85,68.04 L328.35,67.64 L328.85,67.24 L329.35,66.84 L329.86,66.44 L330.36,66.04 L330.86,65.64 L331.36,65.24 L331.87,64.84 L332.37,64.44 L332.87,64.04 L333.37,63.64 L333.88,63.24 L334.38,62.84 L334.88,62.44 L335.38,62.04 L335.89,61.64 L336.39,61.24 L336.89,60.84 L337.39,60.43 L337.90,60.03 L338.40,59.63 L338.90,59.23 M342.20,56.59 L342.71,56.18 L343.22,55.78 L343.73,55.37 L344.24,54.96 L344.75,54.55 L345.26,54.15 L345.77,53.74 L346.28,53.33 L346.79,52.92 L347.30,52.51 L347.81,52.11 L348.32,51.70 L348.83,51.29 L349.34,50.88 L349.86,50.47 L350.37,50.07 L350.88,49.66 L351.39,49.25 L351.90,48.84 L352.41,48.44 L352.92,48.03 L353.43,47.62 L353.94,47.21 L354.45,46.81 L354.96,46.40 L355.47,45.99 L355.98,45.58 L356.49,45.17 L357.00,44.77 M360.50,41.98 L361.00,41.59 L361.51,41.19 L362.01,40.79 L362.51,40.40 L363.01,40.00 L363.52,39.61 L364.02,39.21 L364.52,38.82 L365.02,38.42 L365.53,38.03 L366.03,37.63 L366.53,37.24 L367.04,36.84 L367.54,36.45 L368.04,36.05 L368.54,35.66 L369.05,35.26 L369.55,34.86 L370.05,34.47 L370.56,34.07 L371.06,33.68 L371.56,33.28 L372.06,32.89 L372.57,32.49 L373.07,32.09 L373.57,31.70 L374.08,31.30 L374.58,30.91 L375.08,30.51 L375.58,30.12 L376.09,29.72 L376.59,29.32 L377.09,28.93 L377.59,28.53 L378.10,28.14 L378.60,27.74 M381.50,25.46 L382.00,25.06 L382.51,24.67 L383.01,24.27 L383.52,23.87 L384.02,23.47 L384.53,23.08 L385.03,22.68 L385.54,22.28 L386.04,21.89 L386.54,21.49 L387.05,21.09 L387.55,20.70 L388.06,20.30 L388.56,19.90 L389.07,19.50 L389.57,19.11 L390.08,18.71 L390.58,18.31 L391.08,17.92 L391.59,17.52 L392.09,17.12 L392.60,16.73 L393.10,16.33 L393.61,15.93 L394.11,15.54 L394.61,15.14 L395.12,14.74 L395.62,14.34 L396.13,13.95 L396.63,13.55 L397.14,13.15 L397.64,12.76 L398.15,12.36" fill="none" stroke="#006400" stroke-width="1.3"/>
<rect x="72.5" y="12.0" width="341.5" height="244.5" fill="none" stroke="#000" stroke-width="1.15"/>
<text x="65.0" y="260.80" text-anchor="end" font-family="Liberation Sans, sans-serif" font-weight="bold" font-size="12">0</text>
<text x="65.0" y="220.05" text-anchor="end" font-family="Liberation Sans, sans-serif" font-weight="bold" font-size="12">200</text>
<text x="65.0" y="179.30" text-anchor="end" font-family="Liberation Sans, sans-serif" font-weight="bold" font-size="12">400</text>
<text x="65.0" y="138.55" text-anchor="end" font-family="Liberation Sans, sans-serif" font-weight="bold" font-size="12">600</text>
<text x="65.0" y="97.80" text-anchor="end" font-family="Liberation Sans, sans-serif" font-weight="bold" font-size="12">800</text>
<text x="65.0" y="57.05" text-anchor="end" font-family="Liberation Sans, sans-serif" font-weight="bold" font-size="12">1000</text>
<text x="65.0" y="16.30" text-anchor="end" font-family="Liberation Sans, sans-serif" font-weight="bold" font-size="12">1200</text>
<text x="74.20" y="273.3" text-anchor="middle" font-family="Liberation Sans, sans-serif" font-weight="bold" font-size="12">0</text>
<text x="116.89" y="273.3" text-anchor="middle" font-family="Liberation Sans, sans-serif" font-weight="bold" font-size="12">50</text>
<text x="159.57" y="273.3" text-anchor="middle" font-family="Liberation Sans, sans-serif" font-weight="bold" font-size="12">100</text>
<text x="202.26" y="273.3" text-anchor="middle" font-family="Liberation Sans, sans-serif" font-weight="bold" font-size="12">150</text>
<text x="244.95" y="273.3" text-anchor="middle" font-family="Liberation Sans, sans-serif" font-weight="bold" font-size="12">200</text>
<text x="287.64" y="273.3" text-anchor="middle" font-family="Liberation Sans, sans-serif" font-weight="bold" font-size="12">250</text>
<text x="330.32" y="273.3" text-anchor="middle" font-family="Liberation Sans, sans-serif" font-weight="bold" font-size="12">300</text>
<text x="373.01" y="273.3" text-anchor="middle" font-family="Liberation Sans, sans-serif" font-weight="bold" font-size="12">350</text>
<text x="415.70" y="273.3" text-anchor="middle" font-family="Liberation Sans, sans-serif" font-weight="bold" font-size="12">400</text>
<text x="243.3" y="290.9" text-anchor="middle" font-family="Liberation Sans, sans-serif" font-weight="bold" font-size="12">T (MeV)</text>
<text transform="translate(20.6,134.3) rotate(-90)" text-anchor="middle" font-family="Liberation Sans, sans-serif" font-weight="bold" font-size="12">Mass (MeV)</text>
<text x="115.3" y="30.2" font-family="Liberation Sans, sans-serif" font-weight="bold" font-size="12">a<tspan font-size="10.4" dy="3.8">0</tspan></text>
<text transform="translate(115.2,53.7) scale(1.18,1)" font-family="Liberation Serif, serif" font-size="12" stroke="#000" stroke-width="0.25">η<tspan dy="-1">′</tspan></text>
<text transform="translate(115.0,140) scale(1.18,1)" font-family="Liberation Serif, serif" font-size="12" stroke="#000" stroke-width="0.25">η</text>
<text transform="translate(115.4,170.9) scale(1.15,1)" font-family="Liberation Serif, serif" font-size="12" stroke="#000" stroke-width="0.25">σ</text>
<text transform="translate(115.2,223.5) scale(1.1,1)" font-family="Liberation Serif, serif" font-size="12" stroke="#000" stroke-width="0.25">π</text>
<text x="287.8" y="174.85" font-family="Liberation Sans, sans-serif" font-weight="bold" font-size="12">a<tspan font-size="10.4" dy="3.8">0</tspan></text>
<text transform="translate(289.6,192.1) scale(1.18,1)" font-family="Liberation Serif, serif" font-size="12" stroke="#000" stroke-width="0.25">η<tspan dy="-1">′</tspan></text>
<text transform="translate(292.0,210.2) scale(1.18,1)" font-family="Liberation Serif, serif" font-size="12" stroke="#000" stroke-width="0.25">η</text>
<text transform="translate(291.9,229.10000000000002) scale(1.15,1)" font-family="Liberation Serif, serif" font-size="12" stroke="#000" stroke-width="0.25">σ</text>
<text transform="translate(293.2,247.4) scale(1.1,1)" font-family="Liberation Serif, serif" font-size="12" stroke="#000" stroke-width="0.25">π</text>
<text x="306.4" y="174.85" font-family="Liberation Sans, sans-serif" font-weight="bold" font-size="12" textLength="52.3" lengthAdjust="spacingAndGlyphs">PQMVT II</text>
<text x="306.4" y="192.95" font-family="Liberation Sans, sans-serif" font-weight="bold" font-size="12" textLength="52.3" lengthAdjust="spacingAndGlyphs">PQMVT II</text>
<text x="306.4" y="211.04999999999998" font-family="Liberation Sans, sans-serif" font-weight="bold" font-size="12" textLength="52.3" lengthAdjust="spacingAndGlyphs">PQMVT II</text>
<text x="306.4" y="229.15" font-family="Liberation Sans, sans-serif" font-weight="bold" font-size="12" textLength="52.3" lengthAdjust="spacingAndGlyphs">PQMVT II</text>
<text x="306.4" y="247.45" font-family="Liberation Sans, sans-serif" font-weight="bold" font-size="12" textLength="52.3" lengthAdjust="spacingAndGlyphs">PQMVT II</text>
<path d="M366.1,171.0H399.6" stroke="#dc143c" stroke-width="1.3"/>
<path d="M366.1,189.45H399.6" stroke="#383838" stroke-width="0.7"/>
<circle cx="382.90" cy="189.10" r="1.5" fill="#fff" stroke="#383838" stroke-width="0.75"/>
<path d="M366.1,207.5H399.6" stroke="#0000ff" stroke-width="0.7"/>
<path d="M379.95,208.90 L385.85,208.90 L382.90,203.95Z" fill="#0000ff"/>
<path d="M366.3,225.3H398" stroke="#ff00ff" stroke-width="1.3" stroke-dasharray="4.0 5.1"/>
<path d="M366.3,243.6h11.3 m3.4,0h1.9 m3.35,0h11.4" stroke="#006400" stroke-width="1.3"/>
</svg>
</body></html>
